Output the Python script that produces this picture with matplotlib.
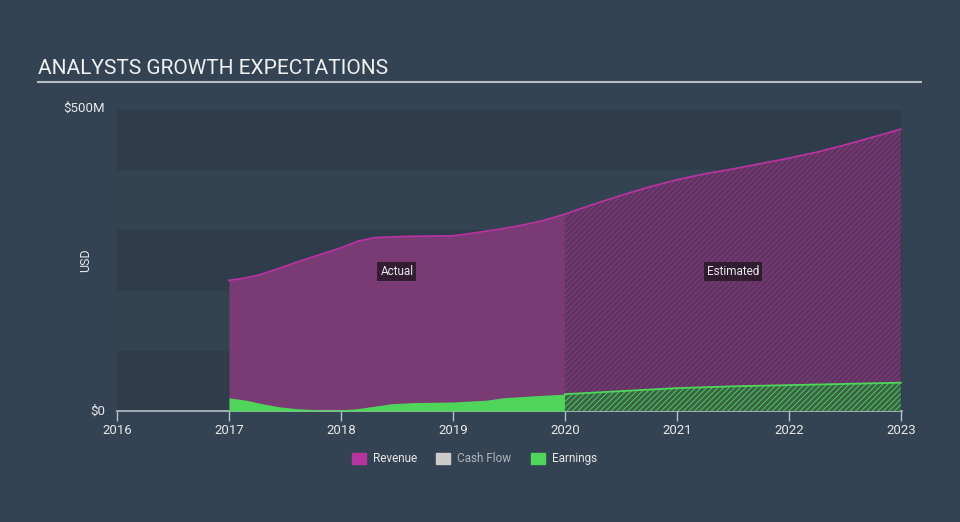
import numpy as np
import matplotlib.pyplot as plt
from matplotlib.patches import Rectangle

# values (US$ millions)
rev_years = [2017.0, 2017.12, 2017.27, 2017.45, 2017.6, 2017.8, 2018.0, 2018.15, 2018.3, 2018.6,
             2019.0, 2019.2, 2019.42, 2019.6, 2019.8, 2020.0,
             2020.25, 2020.5, 2020.75, 2021.0, 2021.25, 2021.5, 2021.75, 2022.0,
             2022.25, 2022.5, 2022.75, 2023.0]
revenue = [217, 220, 226, 237, 247, 259, 271, 282, 288, 290,
           291, 296, 302, 308, 316, 327,
           343, 358, 372, 384, 394, 402, 411, 420,
           430, 442, 455, 468]
earn_years = [2017.0, 2017.15, 2017.3, 2017.45, 2017.6, 2017.8, 2018.0, 2018.15, 2018.3, 2018.45,
              2018.65, 2019.0, 2019.3, 2019.45, 2019.7, 2020.0,
              2020.5, 2021.0, 2021.5, 2022.0, 2022.5, 2023.0]
earnings = [22, 18, 12, 7, 4, 2, 2, 4, 8, 12,
            14, 15, 18, 22, 25, 28,
            33, 38, 41, 43, 45, 47]
years = [2016, 2017, 2018, 2019, 2020, 2021, 2022, 2023]
legend_items = ['Revenue', 'Cash Flow', 'Earnings']
split_year = 2020.0

BG = '#344353'
REV_LINE = '#b5349f'
REV_FILL = '#7a3a74'
REV_EST = '#5e3460'
EARN = '#4fd65a'
EARN_EST = '#3a6447'
TXT = '#e8e8e8'

plt.rcParams['font.family'] = ['Roboto', 'DejaVu Sans']
plt.rcParams['hatch.linewidth'] = 0.6

fig = plt.figure(figsize=(9.6, 5.22), dpi=100, facecolor=BG)
ax = fig.add_axes([117 / 960, 1 - 411 / 522, (902 - 117) / 960, 301 / 522])
ax.set_facecolor(BG)
ax.set_xlim(2016, 2023.01)
ax.set_ylim(0, 500)

# alternating background bands
for i, lo in enumerate(range(0, 500, 100)):
    ax.axhspan(lo, lo + 100, color='#344352' if i % 2 else '#2f3c4b', lw=0, zorder=0)

rx = np.array(rev_years)
ry = np.array(revenue)
ex = np.array(earn_years)
ey = np.array(earnings)

act = rx <= split_year
est = rx >= split_year
ax.fill_between(rx[act], 0, ry[act], color=REV_FILL, lw=0, zorder=2)
ax.fill_between(rx[est], 0, ry[est], facecolor=REV_EST, edgecolor='#8e3a86', hatch='//////', lw=0, zorder=2)
ax.plot(rx, ry, color=REV_LINE, lw=1.3, zorder=4)

eact = ex <= split_year
eest = ex >= split_year
ax.fill_between(ex[eact], 0, ey[eact], color=EARN, lw=0, zorder=3)
ax.fill_between(ex[eest], 0, ey[eest], facecolor=EARN_EST, edgecolor=EARN, hatch='//////', lw=0, zorder=3)
ax.plot(ex[eest], ey[eest], color=EARN, lw=1.3, zorder=4)

box = dict(boxstyle='square,pad=0.25', fc='#2a1a2a', ec='none', alpha=0.9)
ax.text(2018.5, 232, 'Actual', color=TXT, fontsize=8.5, ha='center', va='center', bbox=box, zorder=6)
ax.text(2021.5, 232, 'Estimated', color=TXT, fontsize=8.5, ha='center', va='center', bbox=box, zorder=6)

for s in ['top', 'right', 'left']:
    ax.spines[s].set_visible(False)
ax.spines['bottom'].set_color('#b8c0c8')
ax.spines['bottom'].set_linewidth(1.2)
ax.set_xticks(years)
ax.set_xticklabels([str(y) for y in years])
ax.tick_params(axis='x', colors='#b8c0c8', length=7, width=1, labelcolor=TXT, labelsize=9.5, pad=2)
ax.set_yticks([])
ax.set_ylabel('USD', color=TXT, fontsize=9, labelpad=18)
ax.text(-0.015, 0, '$0', transform=ax.transAxes, color=TXT, fontsize=9.5, ha='right', va='center')
ax.text(-0.015, 1.005, '$500M', transform=ax.transAxes, color=TXT, fontsize=9.5, ha='right', va='center')

# title and underline
fig.text(38 / 960, 1 - 68 / 522, 'ANALYSTS GROWTH EXPECTATIONS', color='#f0f0f0', fontsize=15, va='center', ha='left')
fig.add_artist(plt.Line2D([38 / 960, 921 / 960], [1 - 82 / 522] * 2, color='#b8bec6', lw=1.5))

# legend
leg_colors = [REV_LINE, '#cccccc', EARN]
leg_text_colors = [TXT, '#b0b4b8', TXT]
leg_x = [352, 436, 531]
for x0, name, c, tc in zip(leg_x, legend_items, leg_colors, leg_text_colors):
    fig.add_artist(Rectangle((x0 / 960, 1 - 464 / 522), 14 / 960, 11 / 522, color=c, transform=fig.transFigure))
    fig.text((x0 + 21) / 960, 1 - 458.5 / 522, name, color=tc, fontsize=8.5, va='center', ha='left')

fig.savefig('out.png', dpi=100, facecolor=BG)
